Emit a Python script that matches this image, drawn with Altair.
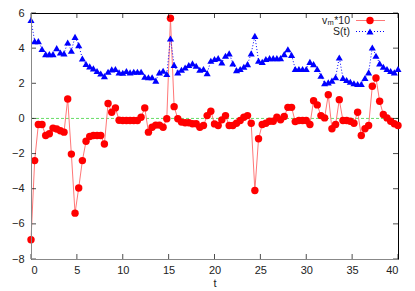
import altair as alt
import pandas as pd

# ---- data (t step 0.4, 0..40) ----
vm10 = [-6.9, -2.4, -0.35, -0.35, -0.97, -0.87, -0.55, -0.6, -0.7, -0.78,
        1.11, -2.03, -5.39, -3.96, -2.4, -1.3, -1.03, -0.97, -0.97, -0.97,
        -1.46, 0.85, 0.35, 0.6, -0.1, -0.12, -0.12, -0.12, -0.12, -0.12,
        0.07, 0.6, -0.78, -0.5, -0.38, -0.38, -0.5, -0.02, 5.7, 0.67,
        -0.02, -0.21, -0.25, -0.25, -0.3, -0.3, -0.5, -0.4, 0.16, 0.41,
        -0.31, -0.4, -0.08, 0.16, -0.4, -0.4, -0.27, -0.12, 0.07, 0.16,
        -0.27, -4.1, -1.16, -0.35, -0.27, -0.16, -0.16, 0.07, -0.08, 0.11,
        0.63, 0.63, -0.18, -0.12, -0.12, -0.12, -0.35, 1.01, 0.77, 0.16,
        0.03, 1.35, -0.59, -0.35, 1.07, -0.12, -0.12, -0.16, -0.27, 0.35,
        -0.97, -0.59, -0.4, 1.83, 2.3, 0.98, 0.22, 0.03, -0.16, -0.3,
        -0.4]
S = [5.6, 4.4, 4.4, 3.95, 3.66, 3.66, 3.66, 4.0, 3.75, 3.7,
     4.32, 3.85, 4.64, 4.17, 3.41, 3.1, 2.96, 2.85, 2.7, 2.56,
     2.41, 2.66, 2.79, 2.81, 2.62, 2.6, 2.7, 2.62, 2.66, 2.66,
     2.66, 2.37, 2.34, 2.34, 2.15, 2.62, 2.71, 2.53, 4.55, 3.05,
     2.62, 2.77, 2.9, 3.04, 3.13, 3.0, 2.77, 2.81, 2.58, 3.28,
     3.38, 3.43, 3.19, 3.57, 3.7, 3.13, 2.75, 2.81, 2.94, 3.09,
     3.7, 4.7, 3.28, 3.22, 3.38, 3.43, 3.43, 3.43, 3.43, 3.66,
     3.94, 3.62, 2.81, 2.81, 2.81, 2.81, 3.22, 3.09, 2.81, 2.43,
     2.0, 2.05, 2.15, 2.34, 3.47, 2.3, 2.19, 2.09, 2.0, 1.96,
     1.96, 2.3, 2.62, 4.04, 3.57, 3.13, 2.94, 2.81, 2.7, 2.62,
     2.81]
t = [round(i * 0.4, 1) for i in range(len(S))]

x_ticks = [0, 5, 10, 15, 20, 25, 30, 35, 40]
y_ticks = [-8, -6, -4, -2, 0, 2, 4, 6]
legend_parts = ["v", "m", "*10", "S(t)"]

df = pd.DataFrame({"t": t, "vm": vm10, "S": S})

W, H = 367, 246
FONT = "Liberation Sans"

x_scale = alt.Scale(domain=[0, 40], nice=False, zero=False)
y_scale = alt.Scale(domain=[-8, 6], nice=False, zero=False)
x_axis = alt.Axis(values=x_ticks, title="t", tickSize=0, labelPadding=5,
                  grid=False, domainColor="#888888", titlePadding=2,
                  labelColor="#222222", titleColor="#222222", zindex=1)
y_axis = alt.Axis(values=y_ticks, title=None, tickSize=0, labelPadding=7,
                  grid=False, domainColor="#888888", labelColor="#222222",
                  zindex=1)


def X(f):
    return alt.X(f, scale=x_scale, axis=x_axis)


def Y(f):
    return alt.Y(f, scale=y_scale, axis=y_axis)


zero = alt.Chart(pd.DataFrame({"t": [0], "t2": [40], "y": [0]})).mark_rule(
    color="#66dd66", strokeDash=[3, 2], strokeWidth=1
).encode(x=X("t:Q"), x2="t2:Q", y=Y("y:Q"))

red_line = alt.Chart(df).mark_line(color="#ff7777", strokeWidth=1).encode(
    x=X("t:Q"), y=Y("vm:Q"))
red_pts = alt.Chart(df).mark_point(filled=True, shape="circle", size=55,
                                   color="#ff0000", opacity=1).encode(
    x=X("t:Q"), y=Y("vm:Q"))
blue_line = alt.Chart(df).mark_line(color="#0000ff", strokeWidth=1,
                                    strokeDash=[1, 2]).encode(
    x=X("t:Q"), y=Y("S:Q"))
blue_pts = alt.Chart(df).mark_point(filled=True, shape="triangle-up", size=50,
                                    color="#0000ff", opacity=1).encode(
    x=X("t:Q"), y=Y("S:Q"))

# inward tick marks on all four sides
xt = pd.DataFrame({"t": x_ticks, "ylo": [-8] * len(x_ticks), "yhi": [6] * len(x_ticks)})
yt = pd.DataFrame({"y": y_ticks, "xlo": [0] * len(y_ticks), "xhi": [40] * len(y_ticks)})
tick_b = alt.Chart(xt).mark_tick(orient="vertical", size=5, thickness=1,
                                 color="black", yOffset=-2.5).encode(
    x=X("t:Q"), y=Y("ylo:Q"))
tick_t = alt.Chart(xt).mark_tick(orient="vertical", size=5, thickness=1,
                                 color="black", yOffset=2.5).encode(
    x=X("t:Q"), y=Y("yhi:Q"))
tick_l = alt.Chart(yt).mark_tick(orient="horizontal", size=5, thickness=1,
                                 color="black", xOffset=2.5).encode(
    x=X("xlo:Q"), y=Y("y:Q"))
tick_r = alt.Chart(yt).mark_tick(orient="horizontal", size=5, thickness=1,
                                 color="black", xOffset=-2.5).encode(
    x=X("xhi:Q"), y=Y("y:Q"))

# legend (inside, top right)
one = pd.DataFrame({"a": [0]})
r1, r2 = 7.5, 18.5
LF = 10.5
leg_v = alt.Chart(one).mark_text(text=legend_parts[0], align="left", baseline="middle",
                                 font=FONT, fontSize=LF, color="#222222").encode(
    x=alt.value(291), y=alt.value(r1))
leg_m = alt.Chart(one).mark_text(text=legend_parts[1], align="left", baseline="middle",
                                 font=FONT, fontSize=7.5, color="#222222").encode(
    x=alt.value(296.5), y=alt.value(r1 + 2.5))
leg_10 = alt.Chart(one).mark_text(text=legend_parts[2], align="right", baseline="middle",
                                  font=FONT, fontSize=LF, color="#222222").encode(
    x=alt.value(319), y=alt.value(r1))
leg_s = alt.Chart(one).mark_text(text=legend_parts[3], align="right", baseline="middle",
                                 font=FONT, fontSize=LF, color="#222222").encode(
    x=alt.value(319), y=alt.value(r2))
leg_rl = alt.Chart(one).mark_rule(color="#ff7777", strokeWidth=1).encode(
    x=alt.value(325), x2=alt.value(354), y=alt.value(r1))
leg_rp = alt.Chart(one).mark_point(filled=True, shape="circle", size=55,
                                   color="#ff0000", opacity=1).encode(
    x=alt.value(339), y=alt.value(r1))
leg_bl = alt.Chart(one).mark_rule(color="#0000ff", strokeWidth=1, strokeDash=[1, 2]).encode(
    x=alt.value(325), x2=alt.value(354), y=alt.value(r2))
leg_bp = alt.Chart(one).mark_point(filled=True, shape="triangle-up", size=50,
                                   color="#0000ff", opacity=1).encode(
    x=alt.value(339), y=alt.value(r2))

chart = alt.layer(
    zero, red_line, red_pts, blue_line, blue_pts,
    tick_b, tick_t, tick_l, tick_r,
    leg_v, leg_m, leg_10, leg_s, leg_rl, leg_rp, leg_bl, leg_bp,
).properties(
    width=W, height=H,
    autosize=alt.AutoSizeParams(type="none"),
    padding={"left": 23, "top": 5, "right": 9, "bottom": 32},
).configure_view(
    stroke="black", strokeWidth=1
).configure_axis(
    labelFont=FONT, labelFontSize=11, titleFont=FONT, titleFontSize=11,
    titleFontWeight="normal"
)

chart.save("out.html", embed_options={"renderer": "svg", "actions": False})
